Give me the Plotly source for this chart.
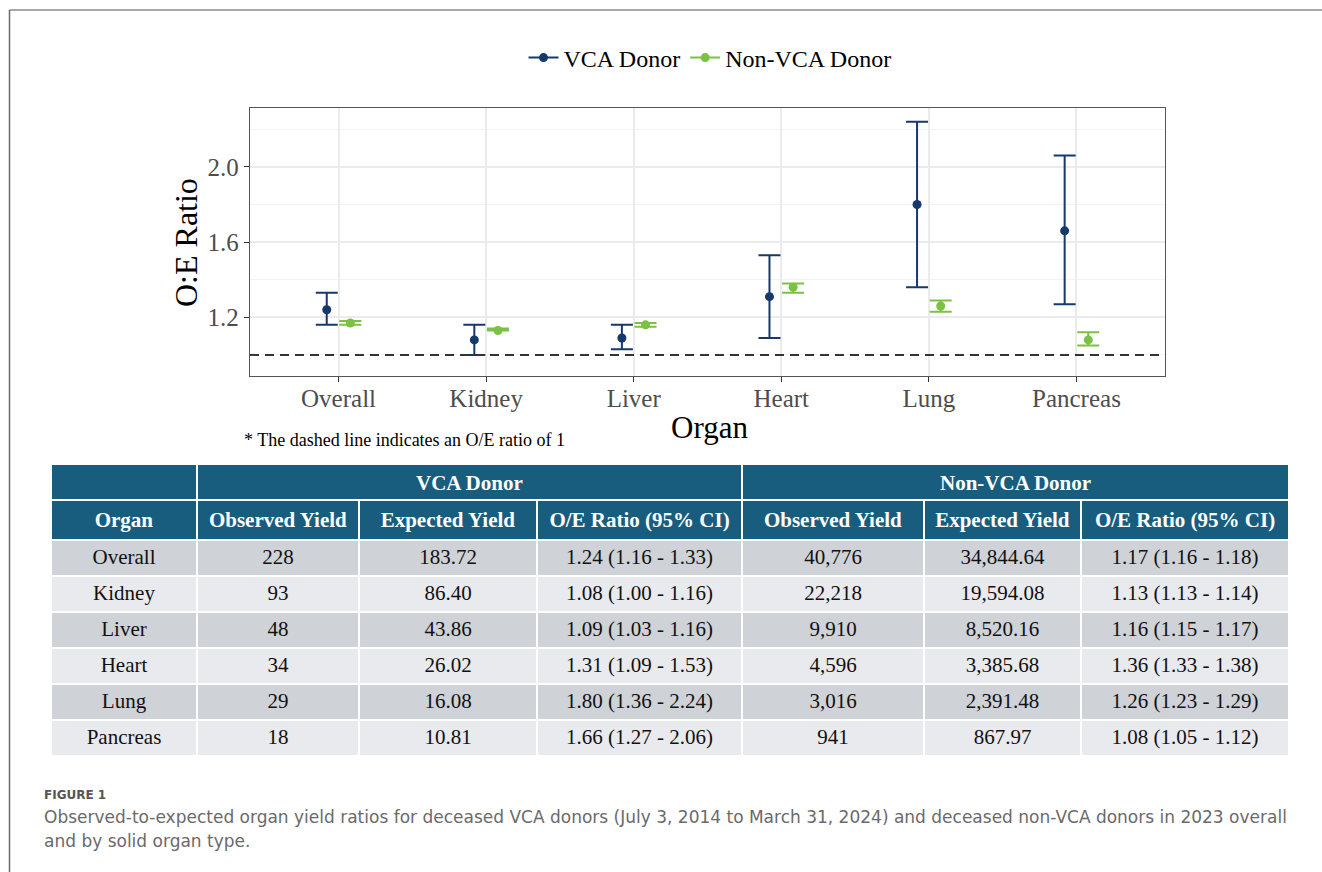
import plotly.graph_objects as go

# ---------------- data ----------------
organs = ["Overall", "Kidney", "Liver", "Heart", "Lung", "Pancreas"]

vca_obs = ["228", "93", "48", "34", "29", "18"]
vca_exp = ["183.72", "86.40", "43.86", "26.02", "16.08", "10.81"]
vca_oe = [1.24, 1.08, 1.09, 1.31, 1.80, 1.66]
vca_lo = [1.16, 1.00, 1.03, 1.09, 1.36, 1.27]
vca_hi = [1.33, 1.16, 1.16, 1.53, 2.24, 2.06]

non_obs = ["40,776", "22,218", "9,910", "4,596", "3,016", "941"]
non_exp = ["34,844.64", "19,594.08", "8,520.16", "3,385.68", "2,391.48", "867.97"]
non_oe = [1.17, 1.13, 1.16, 1.36, 1.26, 1.08]
non_lo = [1.16, 1.13, 1.15, 1.33, 1.23, 1.05]
non_hi = [1.18, 1.14, 1.17, 1.38, 1.29, 1.12]

y_ticks = [1.2, 1.6, 2.0]
y_minor = [1.0, 1.4, 1.8, 2.2]
ref_ratio = 1.0

group_labels = ["VCA Donor", "Non-VCA Donor"]
col_labels = ["Organ", "Observed Yield", "Expected Yield", "O/E Ratio (95% CI)",
              "Observed Yield", "Expected Yield", "O/E Ratio (95% CI)"]

# ---------------- styles ----------------
W, H = 1322, 872
NAVY = "#16396b"
GREEN = "#7bc142"
HEAD = "#185d7e"
ROW_DARK = "#cfd2d7"
ROW_LIGHT = "#e8eaed"
SERIF = "Liberation Serif, Times New Roman, serif"
SANS = "DejaVu Sans"
DODGE = 0.08
XR = [0.4, 6.6]
YR = [0.888, 2.313]


def px_x(p):
    return p / W


def px_y(p):
    return 1 - p / H


def ci_text(oe, lo, hi):
    return [f"{a:.2f} ({b:.2f} - {c:.2f})" for a, b, c in zip(oe, lo, hi)]


xpos = list(range(1, len(organs) + 1))

fig = go.Figure()

for name, oe, lo, hi, color, off in [
    ("VCA Donor", vca_oe, vca_lo, vca_hi, NAVY, -DODGE),
    ("Non-VCA Donor", non_oe, non_lo, non_hi, GREEN, DODGE),
]:
    fig.add_trace(go.Scatter(
        x=[p + off for p in xpos], y=oe, mode="markers", name=name,
        marker=dict(color=color, size=9),
        error_y=dict(type="data", symmetric=False,
                     array=[h - o for h, o in zip(hi, oe)],
                     arrayminus=[o - l for o, l in zip(oe, lo)],
                     color=color, thickness=2, width=11),
        showlegend=False, hoverinfo="skip",
    ))
    # legend key (point + line, like ggplot errorbar key)
    fig.add_trace(go.Scatter(
        x=[None], y=[None], mode="lines+markers", name=name,
        marker=dict(color=color, size=9), line=dict(color=color, width=2),
    ))

# reference line at O/E = 1 (on overlay axes that also carry the x tick marks)
fig.add_trace(go.Scatter(
    x=XR, y=[ref_ratio, ref_ratio], mode="lines", xaxis="x2", yaxis="y2",
    line=dict(color="#333333", width=2, dash="9px,6px"),
    showlegend=False, hoverinfo="skip",
))

xdom = [px_x(250), px_x(1165)]
ydom = [px_y(376), px_y(108)]
fig.update_layout(
    xaxis=dict(
        domain=xdom, range=XR,
        tickvals=xpos, ticktext=organs,
        tickfont=dict(family=SERIF, size=25, color="#4d4d4d"),
        ticks="",
        showgrid=True, gridcolor="#ebebeb", gridwidth=1.5,
        showline=True, linecolor="#555555", linewidth=1.3, mirror=True,
        zeroline=False, fixedrange=True,
    ),
    xaxis2=dict(
        domain=xdom, range=XR, overlaying="x", anchor="y2",
        tickvals=xpos, showticklabels=False,
        ticks="outside", ticklen=5, tickcolor="#333333", tickwidth=1.2,
        showgrid=False, showline=False, zeroline=False, fixedrange=True,
    ),
    yaxis=dict(
        domain=ydom, range=YR,
        tickvals=y_ticks, ticktext=[f"{v:.1f}" for v in y_ticks],
        tickfont=dict(family=SERIF, size=25, color="#4d4d4d"),
        ticks="outside", ticklen=5, tickcolor="#333333", tickwidth=1.2,
        showgrid=True, gridcolor="#ebebeb", gridwidth=1.5,
        minor=dict(tickvals=y_minor, showgrid=True, gridcolor="#f3f3f3", gridwidth=1, ticks=""),
        showline=True, linecolor="#555555", linewidth=1.3, mirror=True,
        zeroline=False, fixedrange=True,
    ),
    yaxis2=dict(
        domain=ydom, range=YR, overlaying="y", anchor="x2",
        showticklabels=False, ticks="", showgrid=False, showline=False,
        zeroline=False, fixedrange=True,
    ),
)

# ---------------- table ----------------
col_w = [146, 162, 178, 205, 182, 157, 208]
TX0 = 51
tx0, tx1 = px_x(TX0), px_x(TX0 + sum(col_w))

row_fill = [ROW_DARK if i % 2 == 0 else ROW_LIGHT for i in range(len(organs))]
fig.add_trace(go.Table(
    domain=dict(x=[tx0, tx1], y=[px_y(770), px_y(500)]),
    columnwidth=col_w,
    header=dict(values=[f"<b>{c}</b>" for c in col_labels], height=36,
                fill_color=HEAD, line=dict(color="white", width=2),
                font=dict(family=SERIF, size=21, color="white"), align="center"),
    cells=dict(values=[organs, vca_obs, vca_exp, ci_text(vca_oe, vca_lo, vca_hi),
                       non_obs, non_exp, ci_text(non_oe, non_lo, non_hi)],
               height=36, fill=dict(color=[row_fill] * 7),
               line=dict(color="white", width=2),
               font=dict(family=SERIF, size=21, color="#111111"), align="center"),
))

# merged group-header row above the table
g_edges = [TX0, TX0 + col_w[0], TX0 + sum(col_w[:4]), TX0 + sum(col_w)]
shapes = []
for a, b in zip(g_edges[:-1], g_edges[1:]):
    shapes.append(dict(type="rect", xref="paper", yref="paper",
                       x0=px_x(a + 1), x1=px_x(b - 1), y0=px_y(500), y1=px_y(465),
                       fillcolor=HEAD, line=dict(width=0), layer="below"))

# ---------------- text ----------------
ann = [
    dict(text="O:E Ratio", x=px_x(186), y=px_y(242), textangle=-90,
         font=dict(family=SERIF, size=32, color="black")),
    dict(text="Organ", x=px_x(709), y=px_y(427),
         font=dict(family=SERIF, size=31, color="black")),
    dict(text="* The dashed line indicates an O/E ratio of 1", x=px_x(242), y=px_y(440),
         xanchor="left", font=dict(family=SERIF, size=18, color="black")),
    dict(text="FIGURE 1", x=px_x(42), y=px_y(795), xanchor="left",
         font=dict(family=SANS, size=12, color="#555555", weight=600)),
    dict(text="Observed-to-expected organ yield ratios for deceased VCA donors (July 3, 2014 to "
              "March 31, 2024) and deceased non-VCA donors in 2023 overall",
         x=px_x(42), y=px_y(817), xanchor="left",
         font=dict(family=SANS, size=17, color="#6a6a6a")),
    dict(text="and by solid organ type.", x=px_x(42), y=px_y(841), xanchor="left",
         font=dict(family=SANS, size=17, color="#6a6a6a")),
]
for lab, a, b in zip(group_labels, g_edges[1:-1], g_edges[2:]):
    ann.append(dict(text=f"<b>{lab}</b>", x=px_x((a + b) / 2), y=px_y(482.5),
                    font=dict(family=SERIF, size=21, color="white")))
for a in ann:
    a.update(xref="paper", yref="paper", showarrow=False)
    a.setdefault("xanchor", "center")
    a.setdefault("yanchor", "middle")

shapes += [
    dict(type="line", xref="paper", yref="paper", x0=px_x(9.5), x1=1, y0=px_y(10), y1=px_y(10),
         line=dict(color="#8a8a8a", width=1.5)),
    dict(type="line", xref="paper", yref="paper", x0=px_x(9.5), x1=px_x(9.5), y0=0, y1=px_y(10),
         line=dict(color="#6a6a6a", width=1.5)),
]

fig.update_layout(
    width=W, height=H, margin=dict(l=0, r=0, t=0, b=0),
    paper_bgcolor="white", plot_bgcolor="white",
    annotations=ann, shapes=shapes,
    legend=dict(orientation="h", x=px_x(710), xanchor="center", y=px_y(58), yanchor="middle",
                font=dict(family=SERIF, size=24, color="black"), itemwidth=30,
                bgcolor="rgba(0,0,0,0)"),
)

fig.write_html("out.html", config={"displayModeBar": False},
               post_script="document.body.style.margin='0';")
